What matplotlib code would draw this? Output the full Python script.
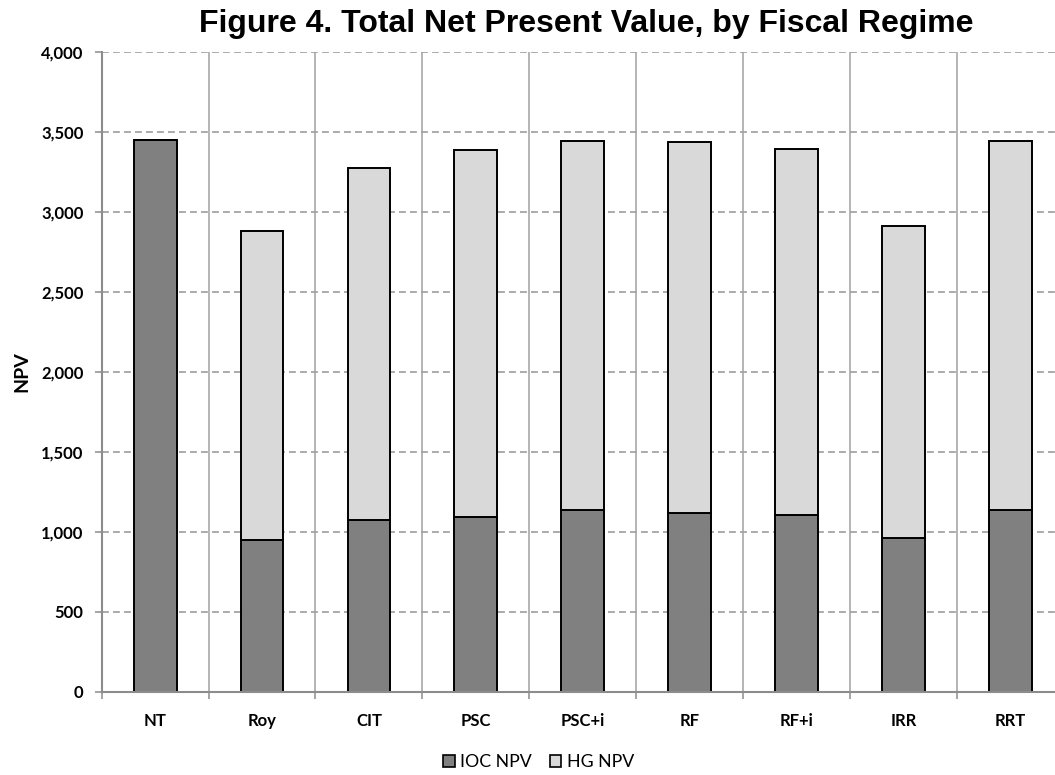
import numpy as np
import matplotlib
matplotlib.use("Agg")
import matplotlib.pyplot as plt
from matplotlib.ticker import FuncFormatter
from matplotlib.patches import Patch
from matplotlib.font_manager import FontProperties

# Fiscal regimes and net present values (stacked: IOC share + host-government share)
regimes = ["NT", "Roy", "CIT", "PSC", "PSC+i", "RF", "RF+i", "IRR", "RRT"]
ioc_npv = [3446, 950, 1073, 1094, 1134, 1115, 1106, 961, 1134]
hg_npv = [0, 1927, 2198, 2290, 2310, 2319, 2286, 1951, 2310]
y_ticks = [0, 500, 1000, 1500, 2000, 2500, 3000, 3500, 4000]

title = "Figure 4. Total Net Present Value, by Fiscal Regime"
ioc_label = "IOC NPV"
hg_label = "HG NPV"

W, H = 1055, 775
fig = plt.figure(figsize=(W / 100, H / 100), dpi=100)

# plot area in pixels: left 101.7, top 51.7, bottom 691.7, category width 106.9
left_px, top_px, bot_px = 101.7, 51.7, 691.7
cat_w = 106.9
right_px = left_px + 9 * cat_w
ax = fig.add_axes([left_px / W, 1 - bot_px / H,
                   (right_px - left_px) / W, (bot_px - top_px) / H])

ioc_color = "#808080"
hg_color = "#D9D9D9"
axis_gray = "#8C8C8C"
grid_gray = "#A0A0A0"

tick_font = FontProperties(family="Lato", weight="bold", size=12)
label_font = FontProperties(family="Lato", weight="bold", size=14)
legend_font = FontProperties(family="Lato", weight="normal", size=12.8)
title_font = FontProperties(family="Liberation Sans", weight="bold", size=23)

x = np.arange(len(regimes))
ax.bar(x, ioc_npv, width=0.4, color=ioc_color, edgecolor="black",
       linewidth=1.4, zorder=3)
ax.bar(x, hg_npv, width=0.4, bottom=ioc_npv, color=hg_color,
       edgecolor="black", linewidth=1.4, zorder=3)

ax.set_xlim(-0.5, len(regimes) - 0.5)
ax.set_ylim(0, 4000)

# horizontal dashed gridlines
for yv in y_ticks[1:]:
    ax.axhline(yv, color="#959595", linewidth=1.1, dashes=(4.5, 2.7), zorder=1)

# category separators as minor-tick gridlines
bounds = np.arange(-0.5, len(regimes), 1.0)
ax.set_xticks(bounds, minor=True)
ax.xaxis.grid(True, which="minor", color=grid_gray, linewidth=1.1, zorder=1)
ax.set_xticks(x)
ax.set_xticklabels(regimes, fontproperties=tick_font)
ax.tick_params(axis="x", which="major", length=0, pad=15)
ax.tick_params(axis="x", which="minor", length=5, width=1.1, color=axis_gray,
               direction="out")

ax.set_yticks(y_ticks)
ax.yaxis.set_major_formatter(FuncFormatter(lambda v, p: f"{int(v):,}"))
for lbl in ax.get_yticklabels():
    lbl.set_fontproperties(tick_font)
ax.tick_params(axis="y", length=5, width=1.1, color=axis_gray, pad=8,
               direction="out")

for side in ("top", "right"):
    ax.spines[side].set_visible(False)
for side in ("left", "bottom"):
    ax.spines[side].set_color(axis_gray)
    ax.spines[side].set_linewidth(1.5)
    ax.spines[side].set_zorder(4)

ax.set_ylabel("NPV", fontproperties=label_font, va="center")
ax.yaxis.set_label_coords((21.7 - left_px) / (right_px - left_px), 0.5)

fig.text(586.5 / W, 1 - 31.7 / H, title, ha="center", va="baseline",
         fontproperties=title_font)

handles = [Patch(facecolor=ioc_color, edgecolor="black", linewidth=1.2),
           Patch(facecolor=hg_color, edgecolor="black", linewidth=1.2)]
fig.legend(handles, [ioc_label, hg_label], loc="center",
           bbox_to_anchor=(538.5 / W, 1 - 762 / H), ncol=2, frameon=False,
           prop=legend_font,
           handlelength=0.65, handleheight=0.65, handletextpad=0.3,
           columnspacing=1.0, borderpad=0.2)

fig.savefig("out.png", dpi=100)
